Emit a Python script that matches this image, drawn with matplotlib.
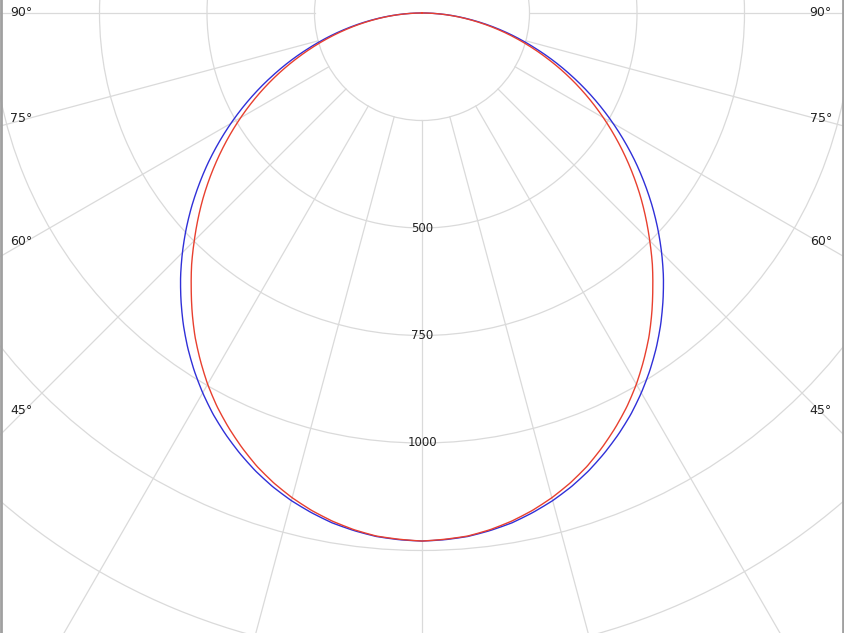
import numpy as np
import matplotlib
matplotlib.use("Agg")
import matplotlib.pyplot as plt
from matplotlib.lines import Line2D

# luminous intensity (cd) vs angle from nadir
angles = [0, 2.5, 5, 7.5, 10, 12.5, 15, 17.5, 20, 22.5, 25, 27.5, 30, 32.5, 35, 37.5,
          40, 42.5, 45, 47.5, 50, 52.5, 55, 57.5, 60, 62.5, 65, 67.5, 70, 72.5, 75,
          77.5, 80, 82.5, 85, 87.5, 90]
c0_c180 = [1228, 1226, 1222, 1214, 1204, 1190, 1174, 1155, 1133, 1108, 1081, 1052,
           1020, 986, 950, 912, 872, 831, 788, 744, 699, 653, 607, 560, 513, 466,
           419, 372, 326, 280, 236, 193, 151, 110, 72, 35, 0]
c90_c270 = [1228, 1225, 1221, 1212, 1200, 1185, 1167, 1146, 1122, 1094, 1064, 1032,
            997, 959, 920, 878, 835, 793, 749, 706, 663, 619, 575, 531, 487, 443,
            399, 355, 311, 268, 226, 185, 145, 106, 69, 34, 0]

ring_values = [250, 500, 750, 1000, 1250, 1500, 1750]
ring_labels = ["500", "750", "1000"]
angle_labels = [90, 75, 60, 45]

W, H = 844, 633
cx, cy = 422, 13          # pole position in pixels from top-left
rmax = 2000
px_per_cd = 0.43
grid_col = "#dadada"
text_col = "#222222"

fig = plt.figure(figsize=(W / 100, H / 100), dpi=100)
rpx = rmax * px_per_cd
ax = fig.add_axes([(cx - rpx) / W, (H - cy - rpx) / H, 2 * rpx / W, 2 * rpx / H],
                  projection="polar")
ax.set_theta_zero_location("S")
ax.set_ylim(0, rmax)
ax.set_xticks([])
ax.set_rgrids(ring_values, labels=[""] * len(ring_values))
ax.yaxis.grid(True, color=grid_col, linewidth=0.9)
ax.spines["polar"].set_visible(False)

for a in range(0, 360, 15):
    t = np.deg2rad(a)
    ax.plot([t, t], [250, rmax], color=grid_col, linewidth=0.9, zorder=1)

for lab in ring_labels:
    ax.text(0, float(lab), lab, ha="center", va="center", fontsize=8.5,
            color=text_col, zorder=3)

def mirror(vals):
    th = np.deg2rad(np.concatenate([-np.array(angles[::-1]), np.array(angles[1:])]))
    r = np.concatenate([np.array(vals[::-1]), np.array(vals[1:])])
    return th, r

for vals, col, z in [(c0_c180, "#3030d8", 4), (c90_c270, "#e8402f", 5)]:
    th, r = mirror(vals)
    line, = ax.plot(th, r, color=col, linewidth=1.0, zorder=z)
    # let the polar transform draw curved segments between the points
    line.get_path()._interpolation_steps = 20

for a in angle_labels:
    if a == 90:
        y = cy - 1
    else:
        y = cy + 400 / np.tan(np.deg2rad(a)) - 2
    fig.text(10 / W, 1 - y / H, f"{a}°", ha="left", va="center",
             fontsize=9, color=text_col)
    fig.text(832 / W, 1 - y / H, f"{a}°", ha="right", va="center",
             fontsize=9, color=text_col)

# window borders at the left and right edge
fig.add_artist(Line2D([1 / W, 1 / W], [0, 1], color="#a0a0a0", linewidth=2))
fig.add_artist(Line2D([1 - 1 / W, 1 - 1 / W], [0, 1], color="#a0a0a0", linewidth=2))

fig.savefig("out.png", dpi=100, facecolor="white")
